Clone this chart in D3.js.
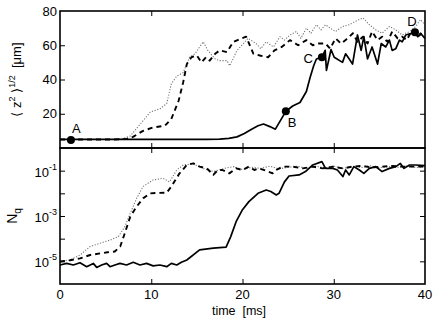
<!DOCTYPE html>
<html><head><meta charset="utf-8">
<script src="https://cdn.jsdelivr.net/npm/d3@7"></script>
<style>
body{margin:0;background:#fff}
svg{display:block}
text{font-family:"Liberation Sans",Arial,Helvetica,sans-serif;fill:#000}
</style>
</head><body>
<svg id="c" width="436" height="320"></svg>
<script>
// ---------- data ----------
// top panel: <z^2>^1/2 [µm] vs time [ms]
const zSolidT = [0,2,4,6,8,10,12,14,16,17.5,18.5,19.4,20.2,21,21.7,22.3,23,23.6,24.75,25.5,26.3,27,27.4,27.8,28.1,28.7,29.06,29.2,29.7,30.05,30.96,31.3,31.7,32.06,32.6,33,33.3,33.7,34.2,34.8,35.2,35.7,36.1,36.4,36.8,37.2,37.5,37.9,38.9,39.2,39.5,40];
const zSolidV = [5,5,5,5,5,5,5,5,5,5.2,5.6,6.5,8.5,11,13,14,12.5,11,21.4,24.5,26.6,33,41,48,52,53,57,45.3,57.5,53,50,55,52,49,66,57,65,52,59,49,61,59,63,57,58,63,62,66,67.6,65,67,64];
const zDashT = [0,2,4,6,7.3,8.0,9.1,10.2,11.5,12.2,13.0,13.5,13.9,14.4,15.0,15.5,16.0,16.4,17.0,17.5,18.3,19.0,19.9,20.4,21.2,21.9,22.8,23.5,24.3,25.2,26.1,27.0,27.7,28.3,29.1,29.6,30.2,30.8,31.3,32.1,32.6,33.2,33.7,34.2,34.8,35.3,35.9,36.4,37.0,37.5,38.0,38.6,39.2,39.7,40];
const zDashV = [5,5,5,5,5.3,6.5,10,12,13,17,27.6,38.4,49,53,54,50,53,51,55,57,56,62,64,65,55,54,53,57,59,63,60,63,60,61,61,58,64,61,63,67,62,65,61,68,63,65,62,68,64,65,63,69,65,67,66];
const zDotT = [0,2,4,6,6.9,7.7,8.8,9.9,11.0,11.7,12.2,12.8,13.5,14.2,14.8,15.3,15.7,16.2,17.0,17.5,18.3,18.6,19.4,20.1,20.6,21.5,22.0,22.6,23.4,24.1,24.6,25.2,25.9,26.4,27.0,27.5,28.1,28.6,29.1,29.6,30.2,31.0,31.7,32.4,33.2,33.9,34.6,35.3,36.1,36.8,37.5,38.3,39,39.5,40];
const zDotV = [5,5,5,5,5.5,7,14,21,23,26,37.5,42,44,53,55,59,62,57,52,51,51,48,57,61,64,61,58,62,59,65,63,66,68,64,70,67,72,69,72,70,68,71,72,74,76,72,69,67,71,69,66,68,71,75,72];
// markers
const markLabels = ["A","B","C","D"];
const markT = [1.2,24.75,28.7,38.9];
const markV = [4.7,21.4,53,67.6];

// bottom panel: N_q vs time [ms] (log scale)
const nSolidT = [0,0.73,1.46,2.19,2.92,3.65,4.02,4.56,5.11,5.48,6.02,6.57,7.3,8.03,8.76,9.49,10.2,10.95,11.7,12.2,12.8,13.3,13.9,15.3,16.8,18.2,18.7,19.3,20.0,20.7,21.7,22.6,23.1,23.7,24.0,24.6,25.1,26.2,26.9,27.7,28.7,29.1,29.9,30.4,31.0,31.3,31.7,32.2,32.8,33.3,33.9,34.6,35.3,36.1,36.8,37.3,37.7,38.3,39,40];
const nSolidV = [6.9e-6,8.1e-6,6.9e-6,8.7e-6,5.8e-6,8.1e-6,5.4e-6,6.9e-6,8.1e-6,5.8e-6,6.9e-6,8.1e-6,6.9e-6,9.1e-6,6.9e-6,8.1e-6,6.3e-6,6.9e-6,5.8e-6,8.1e-6,6.9e-6,9.1e-6,1.15e-5,3.2e-5,3.8e-5,4.2e-5,1.2e-4,5.6e-4,1.9e-3,4.3e-3,1.0e-2,1.4e-2,1.2e-2,8.5e-3,1.0e-2,3.2e-2,5.8e-2,6.5e-2,9.1e-2,0.178,0.251,0.126,0.126,0.107,0.055,0.107,0.065,0.151,0.107,0.076,0.126,0.151,0.091,0.126,0.151,0.209,0.126,0.178,0.178,0.166];
const nDashT = [0,1.1,2.2,3.3,4.4,5.2,6.0,6.6,7.1,7.7,8.4,9.1,9.9,10.8,11.7,12.2,13.1,13.9,14.6,15.3,16.1,16.8,17.3,17.8,18.55,19.3,20.0,20.7,21.3,21.8,22.6,23.3,23.7,24.4,25.5,26.6,27.7,28.8,29.9,31.0,32.05,33.1,34.2,35.3,36.4,37.5,38.6,40];
const nDashV = [9.8e-6,1.12e-5,1.35e-5,1.9e-5,2.24e-5,2.5e-5,2.7e-5,4.5e-5,1.74e-4,9.3e-4,2.6e-3,6.0e-3,1.0e-2,1.05e-2,1.07e-2,2.0e-2,7.6e-2,0.178,0.209,0.151,0.126,0.065,0.107,0.107,0.076,0.126,0.107,0.151,0.107,0.126,0.1,0.076,0.107,0.151,0.151,0.126,0.151,0.126,0.151,0.126,0.151,0.162,0.138,0.151,0.162,0.151,0.151,0.151];
const nDotT = [0,1.1,2.2,3.3,4.4,5.5,6.4,7.1,7.7,8.4,9.1,10.2,11.3,12.0,12.8,13.5,14.6,15.7,16.8,18,19,20,21,22,23,24,25,26,27,28,29,30,31,32,33,34,35,36,37,38,39,40];
const nDotV = [1.0e-5,1.15e-5,1.9e-5,4.5e-5,6.3e-5,8.7e-5,1.23e-4,3.4e-4,1.32e-3,6.0e-3,2.0e-2,3.9e-2,4.6e-2,3.2e-2,0.107,0.178,0.2,0.126,0.091,0.126,0.151,0.112,0.141,0.126,0.158,0.12,0.141,0.158,0.126,0.158,0.132,0.158,0.126,0.151,0.138,0.166,0.132,0.151,0.141,0.158,0.138,0.151];

// ticks
const xTicks = [0,10,20,30,40];
const zTickLabels = [20,40,60,80];
const nTicks = [1e-5,1e-4,1e-3,1e-2,1e-1];
const nTickLabels = [1e-5,1e-3,1e-1];

// ---------- layout ----------
const svg = d3.select("#c");
const X0=60, X1=425, T1=11, B1=148, T2=148, B2=284;
const x = d3.scaleLinear().domain([0,40]).range([X0,X1]);
const yTop = d3.scaleLinear().domain([0,80]).range([B1,T1]);
const yBot = d3.scaleLog().domain([1e-6,1]).range([B2,T2]);
const tick = 5;

function drawLine(ts, vs, y, style){
  const pts = ts.map((t,i)=>[t,vs[i]]);
  const line = d3.line().x(d=>x(d[0])).y(d=>y(d[1]));
  svg.append("path").datum(pts).attr("d",line)
    .attr("fill","none").attr("stroke",style.c).attr("stroke-width",style.w)
    .attr("stroke-dasharray",style.d||null).attr("stroke-linejoin","round");
}
const sSolid={c:"#000",w:1.7};
const sDash={c:"#000",w:1.9,d:"5,4"};
const sDot={c:"#777",w:1.1,d:"1.2,1.6"};

// curves top
drawLine(zDotT,zDotV,yTop,sDot);
drawLine(zDashT,zDashV,yTop,sDash);
drawLine(zSolidT,zSolidV,yTop,sSolid);
// curves bottom
drawLine(nDotT,nDotV,yBot,sDot);
drawLine(nDashT,nDashV,yBot,sDash);
drawLine(nSolidT,nSolidV,yBot,sSolid);

// markers
svg.selectAll("circle.mk").data(markT).enter().append("circle")
  .attr("cx",d=>x(d)).attr("cy",(d,i)=>yTop(markV[i])).attr("r",4).attr("fill","#000");
const lblOff = [[1,-7,"start"],[2,16,"start"],[-9,6,"end"],[-3,-6,"middle"]];
svg.selectAll("text.mk").data(markLabels).enter().append("text")
  .attr("x",(d,i)=>x(markT[i])+lblOff[i][0]).attr("y",(d,i)=>yTop(markV[i])+lblOff[i][1])
  .attr("text-anchor",(d,i)=>lblOff[i][2]).attr("font-size",13).text(d=>d);

// frames
[[T1,B1],[T2,B2]].forEach(([t,b])=>{
  svg.append("rect").attr("x",X0).attr("y",t).attr("width",X1-X0).attr("height",b-t)
    .attr("fill","none").attr("stroke","#000").attr("stroke-width",1.6);
});

// inward ticks via axes
function ticksG(axis, tx, ty){
  const g = svg.append("g").attr("transform",`translate(${tx},${ty})`).call(axis);
  g.select(".domain").remove();
  g.selectAll("text").remove();
  g.selectAll("line").attr("stroke","#000").attr("stroke-width",1);
}
const xInner = [10,20,30];
ticksG(d3.axisBottom(x).tickValues(xInner).tickSize(-tick), 0, B1);
ticksG(d3.axisTop(x).tickValues(xInner).tickSize(-tick), 0, T1);
ticksG(d3.axisBottom(x).tickValues(xInner).tickSize(-tick), 0, B2);
ticksG(d3.axisTop(x).tickValues(xInner).tickSize(-tick), 0, T2);
ticksG(d3.axisLeft(yTop).tickValues([20,40,60]).tickSize(-tick), X0, 0);
ticksG(d3.axisRight(yTop).tickValues([20,40,60]).tickSize(-tick), X1, 0);
ticksG(d3.axisLeft(yBot).tickValues(nTicks).tickSize(-tick), X0, 0);
ticksG(d3.axisRight(yBot).tickValues(nTicks).tickSize(-tick), X1, 0);

// tick labels
svg.selectAll("text.xl").data(xTicks).enter().append("text")
  .attr("x",d=>x(d)).attr("y",B2+15).attr("text-anchor","middle").attr("font-size",13).text(d=>d);
svg.selectAll("text.zl").data(zTickLabels).enter().append("text")
  .attr("x",X0-3).attr("y",d=>yTop(d)+4.5).attr("text-anchor","end").attr("font-size",13).text(d=>d);
const nl = svg.selectAll("text.nl").data(nTickLabels).enter().append("text")
  .attr("x",X0-3).attr("y",d=>yBot(d)+6).attr("text-anchor","end").attr("font-size",13);
nl.append("tspan").text("10");
nl.append("tspan").attr("font-size",9).attr("dy",-7).text(d=>"-"+Math.round(-Math.log10(d)));

// axis titles
svg.append("text").attr("x",239).attr("y",315).attr("text-anchor","middle")
  .attr("font-size",12.5).style("white-space","pre").text("time  [ms]");
const yt1 = svg.append("text").attr("transform",`translate(21,${(T1+B1)/2}) rotate(-90)`)
  .attr("text-anchor","middle").attr("font-size",13).style("white-space","pre");
yt1.append("tspan").text("\u27E8 z");
yt1.append("tspan").attr("font-size",9).attr("dy",-6).text("2");
yt1.append("tspan").attr("dy",6).text(" \u27E9");
yt1.append("tspan").attr("font-size",9).attr("dy",-6).text("1/2");
yt1.append("tspan").attr("dy",6).text("  [\u03BCm]");
const yt2 = svg.append("text").attr("transform",`translate(17,${(T2+B2)/2}) rotate(-90)`)
  .attr("text-anchor","middle").attr("font-size",14);
yt2.append("tspan").text("N");
yt2.append("tspan").attr("font-size",10).attr("dy",4).text("q");
</script>
</body></html>
